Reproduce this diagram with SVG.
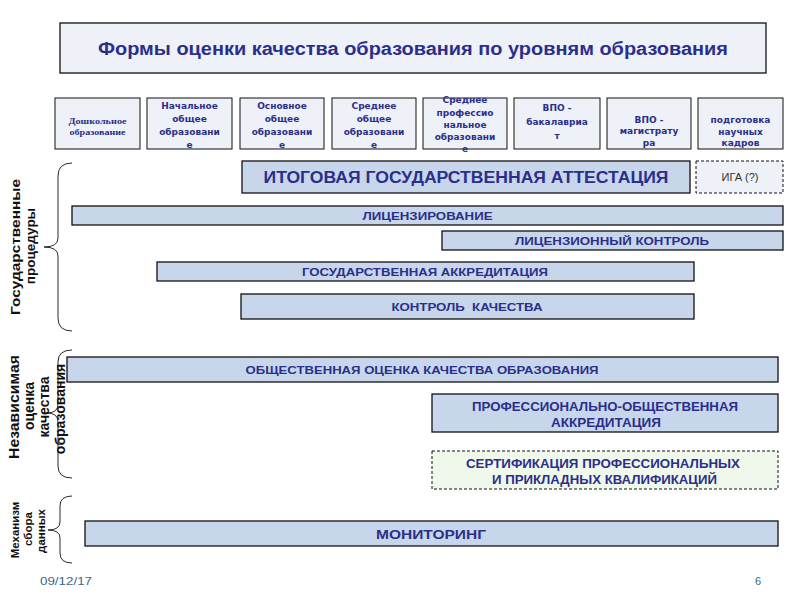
<svg xmlns="http://www.w3.org/2000/svg" width="800" height="600" viewBox="0 0 800 600">
<style>
.lvl{fill:#eef1f8;stroke:#111;stroke-width:1}
.bar{fill:#c8d6ec;stroke:#111;stroke-width:1.3}
.dash{stroke:#111;stroke-width:1;stroke-dasharray:3,2}
.lt{font-family:"DejaVu Sans",Verdana,sans-serif;font-weight:bold;font-size:9px;fill:#2b2f8a;text-anchor:middle}
.bt{font-family:"Liberation Sans",Arial,sans-serif;font-weight:bold;fill:#2b2f8a;text-anchor:middle}
.side{font-family:"Liberation Sans",Arial,sans-serif;font-weight:bold;fill:#111;text-anchor:middle}
.brace{fill:none;stroke:#111;stroke-width:0.9}
</style>
<rect width="800" height="600" fill="#fff"/>
<g id="title">
<rect x="60" y="23" width="706" height="50" fill="#eef1f8" stroke="#111" stroke-width="1.3"/>
<text class="bt" x="413" y="55" font-size="18" textLength="630" lengthAdjust="spacingAndGlyphs">Формы оценки качества образования по уровням образования</text>
</g>
<g id="lvl1"><rect class="lvl" x="55" y="98" width="85" height="51"/>
<text x="97.5" y="124" font-family="'Liberation Serif','Times New Roman',serif" font-weight="bold" font-size="9" fill="#2b2f8a" text-anchor="middle" textLength="58" lengthAdjust="spacingAndGlyphs">Дошкольное</text>
<text x="97.5" y="135" font-family="'Liberation Serif','Times New Roman',serif" font-weight="bold" font-size="9" fill="#2b2f8a" text-anchor="middle" textLength="56" lengthAdjust="spacingAndGlyphs">образование</text></g>
<g id="lvl2"><rect class="lvl" x="147" y="98" width="85" height="51"/>
<text class="lt" x="189.5" y="109">Начальное</text><text class="lt" x="189.5" y="122">общее</text><text class="lt" x="189.5" y="135">образовани</text><text class="lt" x="189.5" y="148">е</text></g>
<g id="lvl3"><rect class="lvl" x="240" y="98" width="84" height="51"/>
<text class="lt" x="282" y="109">Основное</text><text class="lt" x="282" y="122">общее</text><text class="lt" x="282" y="135">образовани</text><text class="lt" x="282" y="148">е</text></g>
<g id="lvl4"><rect class="lvl" x="332" y="98" width="84" height="51"/>
<text class="lt" x="374" y="109">Среднее</text><text class="lt" x="374" y="122">общее</text><text class="lt" x="374" y="135">образовани</text><text class="lt" x="374" y="148">е</text></g>
<g id="lvl5"><rect class="lvl" x="423" y="98" width="84" height="51"/>
<text class="lt" x="465" y="103">Среднее</text><text class="lt" x="465" y="116">профессио</text><text class="lt" x="465" y="128">нальное</text><text class="lt" x="465" y="140">образовани</text><text class="lt" x="465" y="152">е</text></g>
<g id="lvl6"><rect class="lvl" x="514" y="98" width="86" height="51"/>
<text class="lt" x="557" y="111">ВПО -</text><text class="lt" x="557" y="125">бакалавриа</text><text class="lt" x="557" y="139">т</text></g>
<g id="lvl7"><rect class="lvl" x="607" y="98" width="84" height="51"/>
<text class="lt" x="649" y="123">ВПО -</text><text class="lt" x="649" y="134">магистрату</text><text class="lt" x="649" y="146">ра</text></g>
<g id="lvl8"><rect class="lvl" x="698" y="98" width="85" height="51"/>
<text class="lt" x="740.5" y="123">подготовка</text><text class="lt" x="740.5" y="135">научных</text><text class="lt" x="740.5" y="146">кадров</text></g>

<g id="iga"><rect class="bar" x="242" y="161" width="448" height="32"/>
<text class="bt" x="466" y="183" font-size="16" textLength="405" lengthAdjust="spacingAndGlyphs">ИТОГОВАЯ ГОСУДАРСТВЕННАЯ АТТЕСТАЦИЯ</text></g>
<g id="iga-q"><rect class="dash" x="696" y="161" width="87" height="32" fill="#eef1f8"/>
<text x="740" y="181" font-family="'Liberation Sans',Arial,sans-serif" font-size="11" fill="#333" text-anchor="middle">ИГА (?)</text></g>
<g id="lic"><rect class="bar" x="72" y="206" width="711" height="19"/>
<text class="bt" x="427.5" y="220" font-size="11" textLength="130" lengthAdjust="spacingAndGlyphs">ЛИЦЕНЗИРОВАНИЕ</text></g>
<g id="lic-ctrl"><rect class="bar" x="442" y="231" width="341" height="19"/>
<text class="bt" x="612" y="245" font-size="11" textLength="194" lengthAdjust="spacingAndGlyphs">ЛИЦЕНЗИОННЫЙ КОНТРОЛЬ</text></g>
<g id="accr"><rect class="bar" x="157" y="262" width="537" height="19"/>
<text class="bt" x="425" y="276" font-size="11" textLength="246" lengthAdjust="spacingAndGlyphs">ГОСУДАРСТВЕННАЯ АККРЕДИТАЦИЯ</text></g>
<g id="quality"><rect class="bar" x="241" y="294" width="453" height="25"/>
<text class="bt" x="467" y="311" font-size="11.5" textLength="151" lengthAdjust="spacingAndGlyphs" xml:space="preserve">КОНТРОЛЬ  КАЧЕСТВА</text></g>
<g id="public"><rect class="bar" x="67" y="357" width="711" height="25"/>
<text class="bt" x="422" y="374" font-size="11.5" textLength="353" lengthAdjust="spacingAndGlyphs">ОБЩЕСТВЕННАЯ ОЦЕНКА КАЧЕСТВА ОБРАЗОВАНИЯ</text></g>
<g id="prof-accr"><rect class="bar" x="432" y="394" width="346" height="38"/>
<text class="bt" x="605" y="411" font-size="12" textLength="266" lengthAdjust="spacingAndGlyphs">ПРОФЕССИОНАЛЬНО-ОБЩЕСТВЕННАЯ</text>
<text class="bt" x="606" y="427" font-size="12" textLength="110" lengthAdjust="spacingAndGlyphs">АККРЕДИТАЦИЯ</text></g>
<g id="cert"><rect class="dash" x="432" y="451" width="346" height="38" fill="#f0f8ec"/>
<text class="bt" x="603" y="468" font-size="12" textLength="274" lengthAdjust="spacingAndGlyphs">СЕРТИФИКАЦИЯ ПРОФЕССИОНАЛЬНЫХ</text>
<text class="bt" x="604.5" y="484" font-size="12" textLength="225" lengthAdjust="spacingAndGlyphs">И ПРИКЛАДНЫХ КВАЛИФИКАЦИЙ</text></g>
<g id="monitoring"><rect class="bar" x="85" y="521" width="693" height="25"/>
<text class="bt" x="431" y="539" font-size="13" textLength="110" lengthAdjust="spacingAndGlyphs">МОНИТОРИНГ</text></g>

<g id="braces">
<path class="brace" d="M72,163 Q58,163 58,176 L58,238 Q58,247 44,247 Q58,247 58,256 L58,318 Q58,331 72,331"/>
<path class="brace" d="M72,350 Q58,350 58,362 L58,404 Q58,413 47,413 Q58,413 58,422 L58,466 Q58,478 72,478"/>
<path class="brace" d="M72,496 Q60,496 60,506 L60,522 Q60,530 48,530 Q60,530 60,538 L60,553 Q60,563 72,563"/>
</g>
<g id="labels">
<text class="side" font-size="13.5" transform="translate(20,247) rotate(-90)" textLength="136" lengthAdjust="spacingAndGlyphs">Государственные</text>
<text class="side" font-size="13.5" transform="translate(35,246) rotate(-90)">процедуры</text>
<text class="side" font-size="14" transform="translate(19,407) rotate(-90)" textLength="104" lengthAdjust="spacingAndGlyphs">Независимая</text>
<text class="side" font-size="14" transform="translate(34,406) rotate(-90)">оценка</text>
<text class="side" font-size="14" transform="translate(49,407) rotate(-90)">качества</text>
<text class="side" font-size="14" transform="translate(65,409) rotate(-90)">образования</text>
<text class="side" font-size="11.5" transform="translate(19,530) rotate(-90)">Механизм</text>
<text class="side" font-size="11.5" transform="translate(32,529) rotate(-90)">сбора</text>
<text class="side" font-size="11.5" transform="translate(45,531) rotate(-90)">данных</text>
</g>
<g id="footer">
<text x="40" y="585" font-family="'Liberation Sans',Arial,sans-serif" font-size="11" fill="#3b6a8c" textLength="52" lengthAdjust="spacingAndGlyphs">09/12/17</text>
<text x="758" y="585" font-family="'Liberation Sans',Arial,sans-serif" font-size="11" fill="#3b6a8c" text-anchor="middle">6</text>
</g>
</svg>
